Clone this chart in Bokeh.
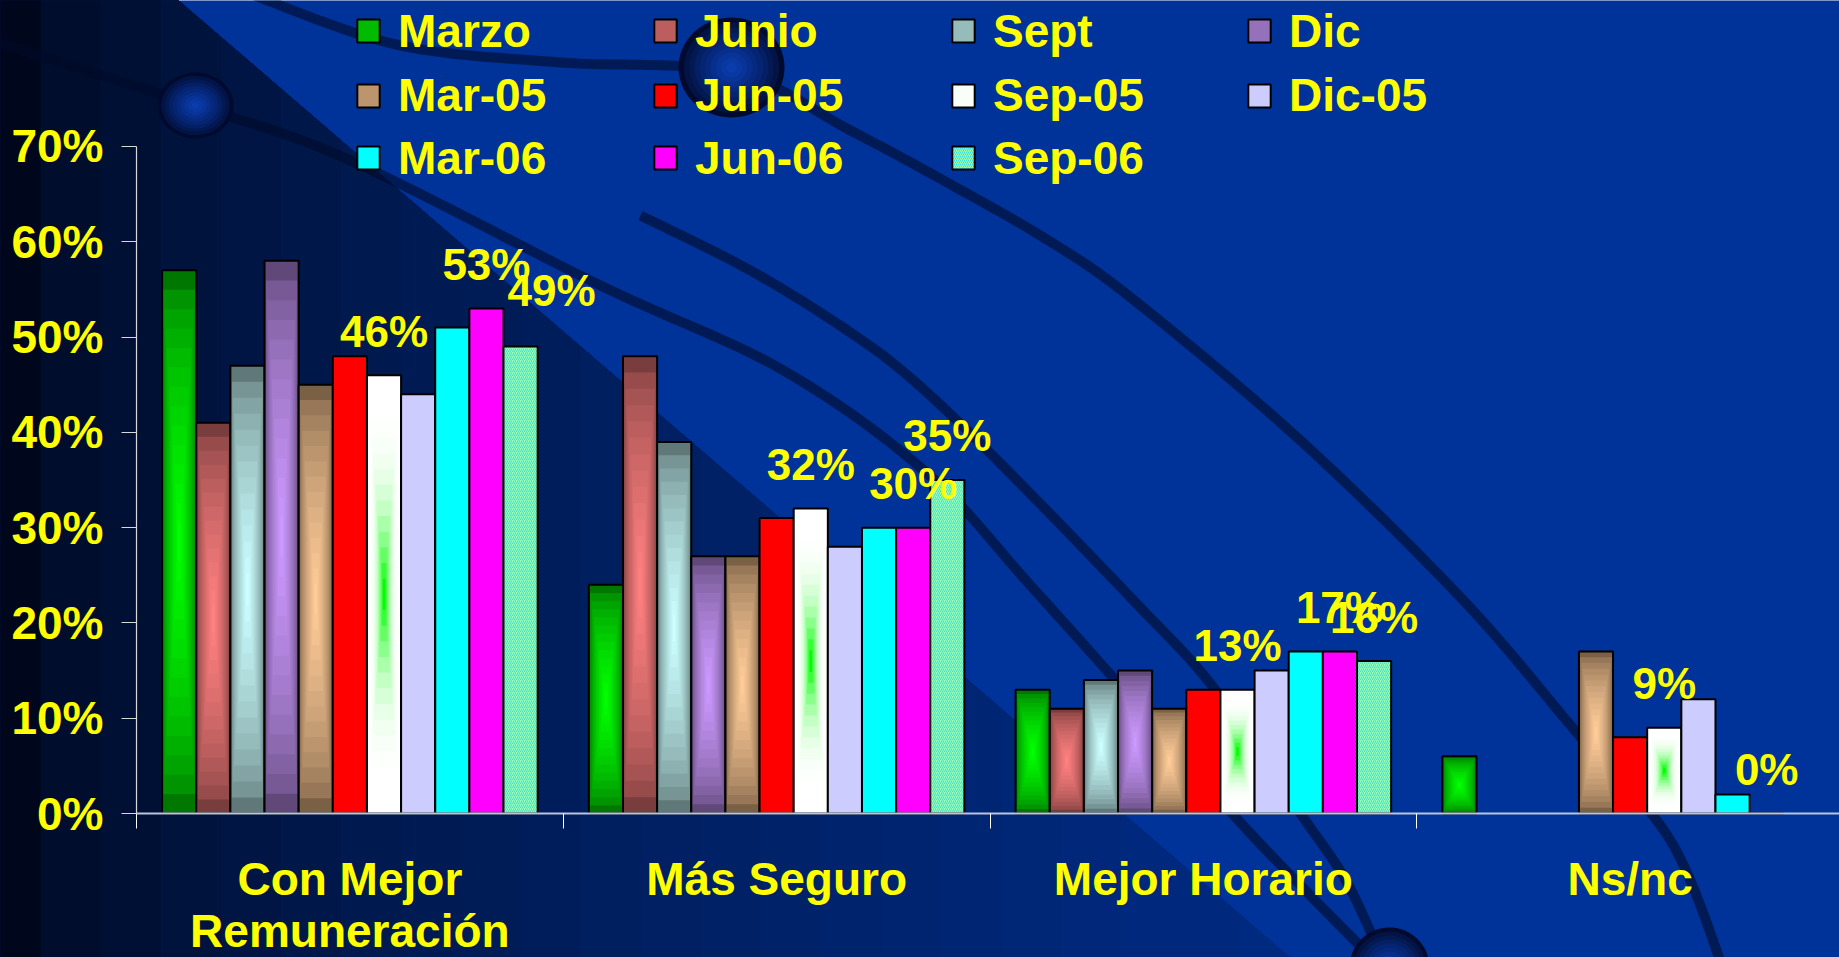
import numpy as np
from bokeh.plotting import figure
from bokeh.models import (Range1d, FixedTicker, Legend, LegendItem,
                          PolyAnnotation, ColumnDataSource)
from bokeh.embed import file_html
from bokeh.resources import INLINE
from bokeh.core.properties import value

# ------------------------------------------------------------------ data
categories = ["Con Mejor\nRemuneración", "Más Seguro", "Mejor Horario", "Ns/nc"]
series_names = ["Marzo", "Junio", "Sept", "Dic", "Mar-05", "Jun-05",
                "Sep-05", "Dic-05", "Mar-06", "Jun-06", "Sep-06"]
marzo = [57, 24, 13, 6]
junio = [41, 48, 11, None]
sept = [47, 39, 14, None]
dic = [58, 27, 15, None]
mar05 = [45, 27, 11, 17]
jun05 = [48, 31, 13, 8]
sep05 = [46, 32, 13, 9]
dic05 = [44, 28, 15, 12]
mar06 = [51, 30, 17, 2]
jun06 = [53, 30, 17, 0]
sep06 = [49, 35, 16, None]
series_values = [marzo, junio, sept, dic, mar05, jun05, sep05, dic05, mar06, jun06, sep06]
labelled_series = ["Sep-05", "Jun-06", "Sep-06"]
y_tick_values = [0, 10, 20, 30, 40, 50, 60, 70]
y_tick_labels = ["0%", "10%", "20%", "30%", "40%", "50%", "60%", "70%"]

# ------------------------------------------------------------------ style
FONT = "Liberation Sans"
YELLOW = "#FFFF00"
BG = "#003399"
W, H = 1839, 957
AX_X = 136            # pixel column of the value axis
AX_Y = 813            # pixel row of the category axis
PX_PER_PCT = 9.5286
CAT_PX = 426.75
BW = 1 / 12.5          # bar width in category units (Excel gap 150%)
N_LAYERS = 14
LABEL_RISE = 44        # px between bar top and label baseline

GRAD = {
    "Marzo": ("#007800", "#00FF00", 0.6),
    "Junio": ("#7A3D3D", "#FF8080", 0.6),
    "Sept": ("#607878", "#CCFFFF", 0.6),
    "Dic": ("#604878", "#CC99FF", 0.6),
    "Mar-05": ("#7A6045", "#FFCC99", 0.6),
    "Sep-05": ("#FFFFFF", "#00FF00", 3.0),
}
FLAT = {"Jun-05": "#FF0000", "Dic-05": "#CCCCFF", "Mar-06": "#00FFFF", "Jun-06": "#FF00FF"}
LABEL_SHIFT = {("Sep-06", 0): (31, -12)}   # manually moved label in the original

LEG_COLS_X = [354, 651, 949, 1245]   # marker left (image px)
LEG_ROWS_Y = [31, 95.5, 158]         # marker centre (image px)
LEG_ITEM_H = 53


def hex2rgb(h):
    h = h.lstrip("#")
    return np.array([int(h[i:i + 2], 16) for i in (0, 2, 4)], float)


def mix(c1, c2, s):
    c = hex2rgb(c1) * (1 - s) + hex2rgb(c2) * s
    return "#%02x%02x%02x" % tuple(int(round(v)) for v in c)


p = figure(width=W, height=H, output_backend="svg", toolbar_location=None, title=None,
           x_range=Range1d(-AX_X / CAT_PX, (W - AX_X) / CAT_PX),
           y_range=Range1d(-(H - AX_Y) / PX_PER_PCT, AX_Y / PX_PER_PCT),
           min_border_left=0, min_border_right=0, min_border_top=0, min_border_bottom=0,
           background_fill_color=BG, border_fill_color=BG, outline_line_color=None)
p.grid.visible = False


# ------------------------------------------------------------------ background decoration
def scr(X, Y):
    """image px -> frame screen units (x right, y up from frame bottom)"""
    return X, H - Y


def add_poly(pts, color, alpha=1.0):
    xs, ys = zip(*[scr(x, y) for x, y in pts])
    p.add_layout(PolyAnnotation(xs=list(xs), ys=list(ys), xs_units="screen", ys_units="screen",
                                fill_color=color, fill_alpha=alpha, line_color=None,
                                level="underlay"))


BX0, BX1 = 178.0, 1290.0          # diagonal boundary of the dark lower-left area
slope = (BX1 - BX0) / 957.0
for xr in range(1300, 0, -60):
    s = (max(xr - 30, 0) / 1250.0) ** 0.5
    col = mix("#000412", "#002a80", min(s, 1.0))
    if xr <= BX0:
        pts = [(-20, -20), (xr, -20), (xr, 980), (-20, 980)]
    else:
        yr = (xr - BX0) / slope
        if yr < 957:
            pts = [(-20, -20), (BX0 - 20 * slope, -20), (xr, yr), (xr, 980), (-20, 980)]
        else:
            pts = [(-20, -20), (BX0 - 20 * slope, -20), (BX1 + 23 * slope, 980), (-20, 980)]
    add_poly(pts, col)


def smooth(points, n=14):
    P = np.array(points, float)
    P = np.vstack([P[0], P, P[-1]])
    out = []
    for i in range(1, len(P) - 2):
        p0, p1, p2, p3 = P[i - 1], P[i], P[i + 1], P[i + 2]
        for t in np.linspace(0, 1, n, endpoint=False):
            out.append(0.5 * (2 * p1 + (-p0 + p2) * t + (2 * p0 - 5 * p1 + 4 * p2 - p3) * t * t
                              + (-p0 + 3 * p1 - 3 * p2 + p3) * t ** 3))
    out.append(P[-2])
    return np.array(out)


def band(points, width):
    c = smooth(points)
    d = np.gradient(c, axis=0)
    nrm = np.stack([-d[:, 1], d[:, 0]], axis=1)
    nrm /= np.linalg.norm(nrm, axis=1, keepdims=True) + 1e-9
    left, right = c + nrm * width / 2, c - nrm * width / 2
    return [tuple(v) for v in np.vstack([left, right[::-1]])]


curves = [
    [(-20, 37), (0, 43), (195, 105), (350, 160), (600, 285), (783, 370), (927, 473),
     (1030, 585), (1133, 700), (1250, 833), (1389, 975)],
    [(250, -10), (267, 0), (400, 45), (560, 62), (733, 72), (850, 130), (943, 180),
     (1048, 240), (1134, 300), (1300, 440), (1463, 600), (1577, 733), (1670, 840), (1725, 975)],
    [(640, 215), (750, 270), (847, 330), (913, 380), (1000, 463), (1133, 600), (1213, 687),
     (1300, 813), (1347, 883), (1389, 975)],
]
for cv in curves:
    add_poly(band(cv, 10), "#000a2a", 0.6)

spheres = [(195, 105, 38, 33), (731, 67, 53, 50), (1389, 967, 40, 40)]
for cx, cy, rx, ry in spheres:
    th = np.linspace(0, 2 * np.pi, 64)
    for k in range(10):
        f = 1 - k / 10
        col = mix("#000a2e", "#0a3cae", (k / 9) ** 0.8)
        add_poly([(cx + rx * f * np.cos(a), cy + ry * f * np.sin(a)) for a in th], col)

# ------------------------------------------------------------------ bars
legend_renderers = {}
for i, (name, vals) in enumerate(zip(series_names, series_values)):
    xs = [c + (1.25 + i) * BW for c, v in enumerate(vals) if v is not None]
    hs = [v for v in vals if v is not None]
    base = dict(x=xs, top=hs)
    if name in GRAD:
        edge, centre, pw = GRAD[name]
        layers = []
        for k in range(N_LAYERS):
            t = k / N_LAYERS
            col = mix(edge, centre, (k / (N_LAYERS - 1)) ** pw)
            src = ColumnDataSource(dict(x=xs, w=[BW * (1 - t)] * len(xs),
                                        b=[h * t / 2 for h in hs],
                                        t=[h - h * t / 2 for h in hs]))
            layers.append(p.vbar(x="x", width="w", bottom="b", top="t", source=src,
                                 fill_color=col, line_color=None))
        outline = p.vbar(x="x", width=BW, bottom=0, top="top", source=ColumnDataSource(base),
                         fill_color=None, line_color="black", line_width=2)
        dot = p.scatter(x=[], y=[], marker="square", fill_color=centre, line_color=None)
        legend_renderers[name] = [layers[N_LAYERS // 3], dot, outline]
    elif name in FLAT:
        r = p.vbar(x="x", width=BW, bottom=0, top="top", source=ColumnDataSource(base),
                   fill_color=FLAT[name], line_color="black", line_width=2)
        legend_renderers[name] = [r]
    else:  # Sep-06, patterned
        r = p.vbar(x="x", width=BW, bottom=0, top="top", source=ColumnDataSource(base),
                   fill_color="#A0FFA8", hatch_pattern="right_diagonal_line",
                   hatch_color="#40E0E0", hatch_scale=4, hatch_weight=1.0,
                   line_color="black", line_width=2)
        legend_renderers[name] = [r]

# ------------------------------------------------------------------ data labels
lab = dict(x=[], y=[], t=[], dx=[], dy=[])
for name in labelled_series:
    i = series_names.index(name)
    for c, v in enumerate(series_values[i]):
        if v is None:
            continue
        dx, dy = LABEL_SHIFT.get((name, c), (0, 0))
        lab["x"].append(c + (1.25 + i) * BW)
        lab["y"].append(v)
        lab["t"].append(f"{v}%")
        lab["dx"].append(dx)
        lab["dy"].append(-LABEL_RISE + dy)
p.text(x="x", y="y", text="t", x_offset="dx", y_offset="dy", source=ColumnDataSource(lab),
       text_font=value(FONT), text_font_style="bold", text_font_size="44px",
       text_color=YELLOW, text_align="center", text_baseline="alphabetic")

# ------------------------------------------------------------------ axes
ya = p.yaxis[0]
ya.fixed_location = 0
ya.ticker = FixedTicker(ticks=y_tick_values)
ya.major_label_overrides = {v: l for v, l in zip(y_tick_values, y_tick_labels)}
ya.bounds = (0, 70)
ya.axis_line_color = "#D8D8D8"
ya.axis_line_width = 1.2
ya.major_tick_line_color = "#D8D8D8"
ya.major_tick_out = 15
ya.major_tick_in = 0
ya.minor_tick_line_color = None
ya.major_label_standoff = 18
ya.major_label_text_font = FONT
ya.major_label_text_font_style = "bold"
ya.major_label_text_font_size = "46px"
ya.major_label_text_color = YELLOW

xa = p.xaxis[0]
xa.fixed_location = 0
xa.ticker = FixedTicker(ticks=[c + 0.5 for c in range(len(categories))],
                        minor_ticks=list(range(len(categories) + 1)))
xa.major_label_overrides = {c + 0.5: n for c, n in enumerate(categories)}
xa.bounds = (0, len(categories))
xa.axis_line_color = "#B8C4E0"
xa.axis_line_width = 2
xa.major_tick_line_color = None
xa.major_tick_out = 0
xa.major_tick_in = 0
xa.minor_tick_line_color = "#FFFFFF"
xa.minor_tick_out = 15
xa.minor_tick_in = 0
xa.major_label_standoff = 24
xa.major_label_text_font = FONT
xa.major_label_text_font_style = "bold"
xa.major_label_text_font_size = "46px"
xa.major_label_text_line_height = 1.0
xa.major_label_text_color = YELLOW

# ------------------------------------------------------------------ legend
for idx, name in enumerate(series_names):
    r, c = divmod(idx, 4)
    sx = LEG_COLS_X[c]
    top_px = LEG_ROWS_Y[r] - LEG_ITEM_H / 2
    sy = H - (top_px + LEG_ITEM_H)
    leg = Legend(items=[LegendItem(label=name, renderers=legend_renderers[name])],
                 location=(sx, sy), padding=0, margin=0, spacing=0,
                 glyph_width=28, glyph_height=29, label_standoff=16,
                 label_text_font=FONT, label_text_font_style="bold",
                 label_text_font_size="46px", label_text_color=YELLOW,
                 border_line_color=None, background_fill_alpha=0)
    p.add_layout(leg)

open("out.html", "w").write(file_html(p, INLINE))
